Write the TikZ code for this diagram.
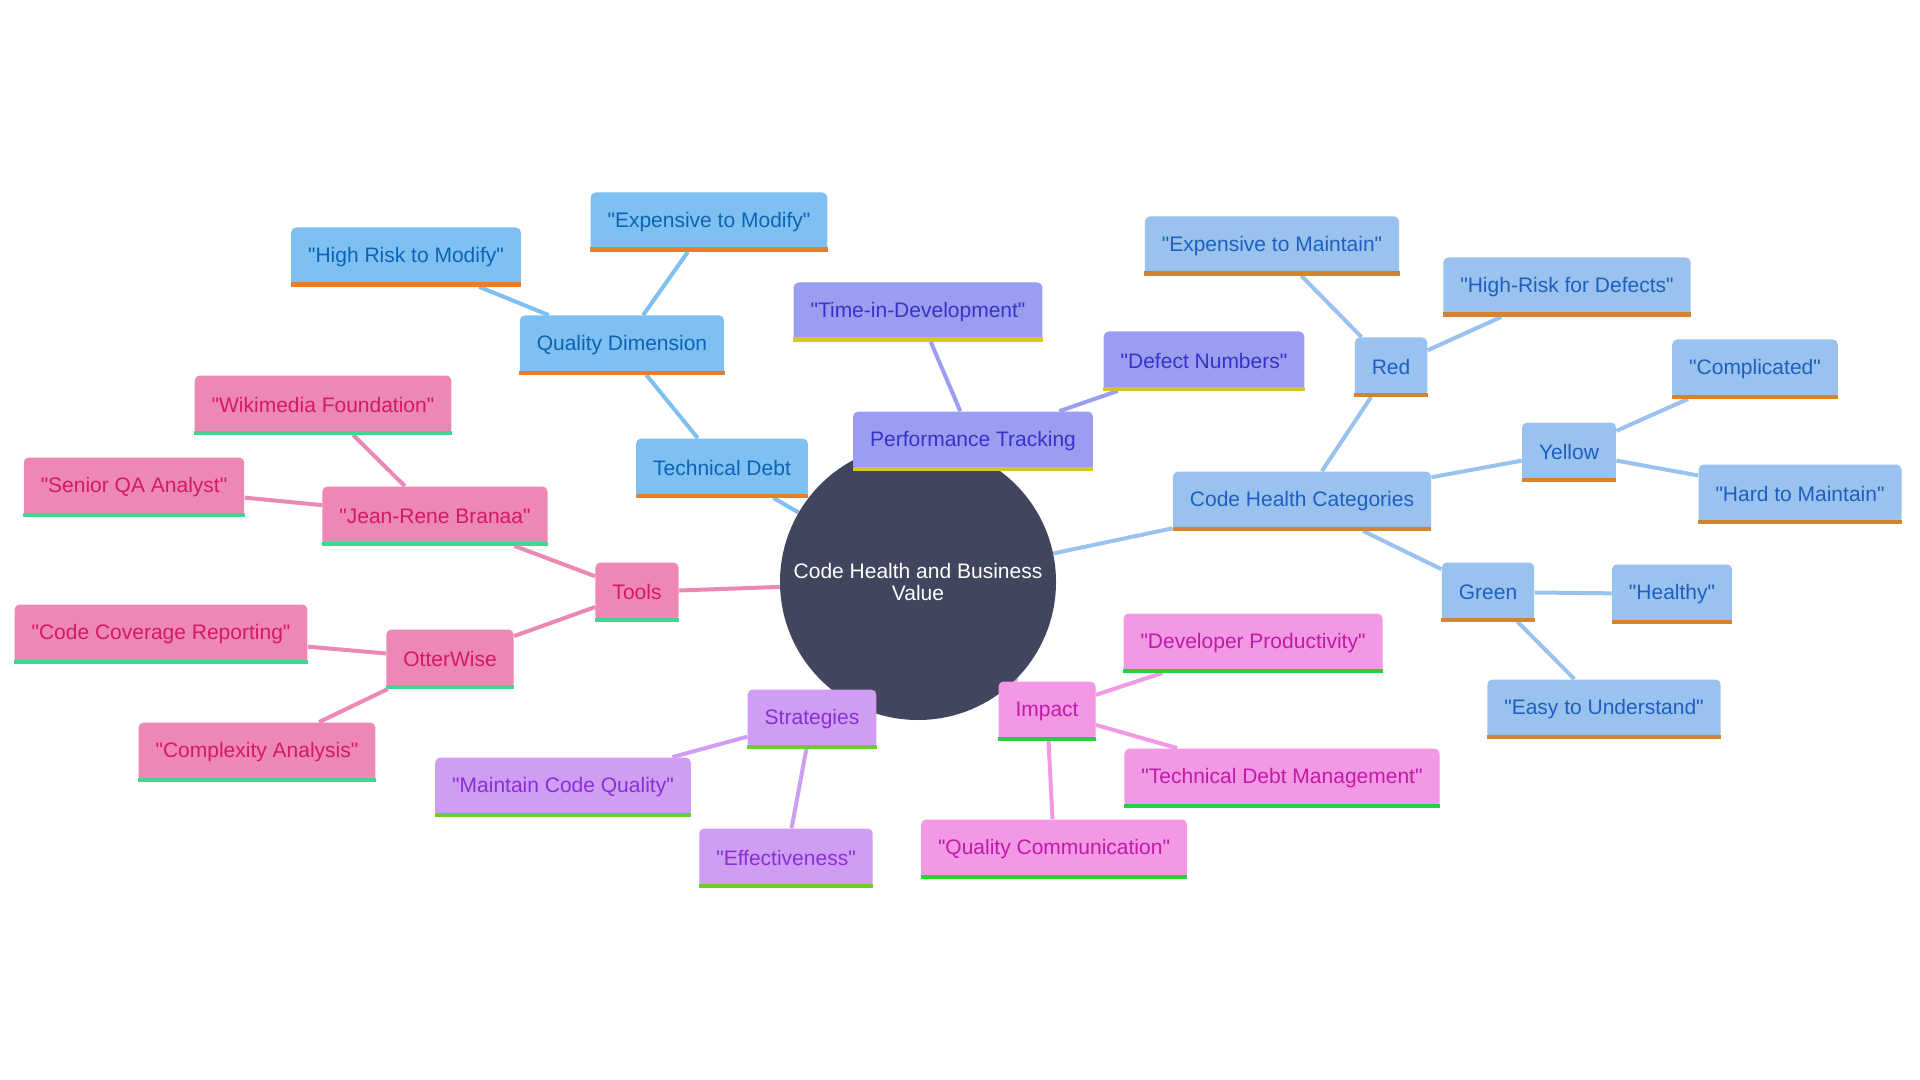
\documentclass[tikz,border=0pt]{standalone}
\usepackage{fontspec}
\setmainfont{Liberation Sans}[Ligatures=TeXOff]
\usetikzlibrary{backgrounds}
\definecolor{root-fill}{HTML}{41455D}
\definecolor{td-fill}{HTML}{7DC0F1}
\definecolor{td-text}{HTML}{0E64B4}
\definecolor{td-bar}{HTML}{E57E35}
\definecolor{pt-fill}{HTML}{9B9DF1}
\definecolor{pt-text}{HTML}{3434C8}
\definecolor{pt-bar}{HTML}{D4C81E}
\definecolor{ch-fill}{HTML}{9AC2EE}
\definecolor{ch-text}{HTML}{1E5FC0}
\definecolor{ch-bar}{HTML}{D4842F}
\definecolor{im-fill}{HTML}{F298E4}
\definecolor{im-text}{HTML}{C21AA8}
\definecolor{im-bar}{HTML}{22D13C}
\definecolor{st-fill}{HTML}{CF9DF2}
\definecolor{st-text}{HTML}{8A2FD6}
\definecolor{st-bar}{HTML}{6ACF2C}
\definecolor{to-fill}{HTML}{ED87B5}
\definecolor{to-text}{HTML}{D41968}
\definecolor{to-bar}{HTML}{3BD88E}
\tikzset{
  mmroot/.style={
    circle, fill=root-fill, text=white,
    minimum size=138pt, inner sep=0pt, align=center,
    font=\fontsize{10.5}{11}\selectfont
  },
  mmbox/.style={
    rectangle, rounded corners=2.5pt,
    minimum height=29.5pt, inner xsep=8.5pt,
    font=\fontsize{10.5}{12}\selectfont
  },
  tdbox/.style={mmbox, fill=td-fill, text=td-text},
  ptbox/.style={mmbox, fill=pt-fill, text=pt-text},
  chbox/.style={mmbox, fill=ch-fill, text=ch-text},
  imbox/.style={mmbox, fill=im-fill, text=im-text},
  stbox/.style={mmbox, fill=st-fill, text=st-text},
  tobox/.style={mmbox, fill=to-fill, text=to-text},
  mmedge/.style={line width=2pt},
}

\begin{document}
\begin{tikzpicture}[x=0.5pt, y=-0.5pt]
  \useasboundingbox (0,0) rectangle (1920,1080);

  % centre
  \node[mmroot] (root) at (918,582) {Code Health and Business\\Value};

  % technical debt
  \node[tdbox] (td)  at (722,468) {Technical Debt};
  \node[tdbox] (qd)  at (622,345) {Quality Dimension};
  \node[tdbox] (hrm) at (406,257) {"High Risk to Modify"};
  \node[tdbox] (etm) at (709,222) {"Expensive to Modify"};

  % performance tracking
  \node[ptbox] (pt)  at (973,441)  {Performance Tracking};
  \node[ptbox] (tid) at (918,312)  {"Time-in-Development"};
  \node[ptbox] (dn)  at (1204,361) {"Defect Numbers"};

  % code health categories
  \node[chbox] (chc)  at (1302,501) {Code Health Categories};
  \node[chbox] (red)  at (1391,367) {Red};
  \node[chbox] (etmn) at (1272,246) {"Expensive to Maintain"};
  \node[chbox] (hrd)  at (1567,287) {"High-Risk for Defects"};
  \node[chbox] (yel)  at (1569,452) {Yellow};
  \node[chbox] (cmp)  at (1755,369) {"Complicated"};
  \node[chbox] (htm)  at (1800,494) {"Hard to Maintain"};
  \node[chbox] (grn)  at (1488,592) {Green};
  \node[chbox] (hlt)  at (1672,594) {"Healthy"};
  \node[chbox] (etu)  at (1604,709) {"Easy to Understand"};

  % impact
  \node[imbox] (imp) at (1047,711) {Impact};
  \node[imbox] (dp)  at (1253,643) {"Developer Productivity"};
  \node[imbox] (tdm) at (1282,778) {"Technical Debt Management"};
  \node[imbox] (qc)  at (1054,849) {"Quality Communication"};

  % strategies
  \node[stbox] (str) at (812,719) {Strategies};
  \node[stbox] (mcq) at (563,787) {"Maintain Code Quality"};
  \node[stbox] (eff) at (786,858) {"Effectiveness"};

  % tools
  \node[tobox] (tools) at (637,592) {Tools};
  \node[tobox] (jrb)   at (435,516) {"Jean-Rene Branaa"};
  \node[tobox] (wf)    at (323,405) {"Wikimedia Foundation"};
  \node[tobox] (sqa)   at (134,487) {"Senior QA Analyst"};
  \node[tobox] (ow)    at (450,659) {OtterWise};
  \node[tobox] (ccr)   at (161,634) {"Code Coverage Reporting"};
  \node[tobox] (ca)    at (257,752) {"Complexity Analysis"};

  % bottom bars
  \foreach \n/\c in {td/td-bar, qd/td-bar, hrm/td-bar, etm/td-bar,
                     pt/pt-bar, tid/pt-bar, dn/pt-bar,
                     chc/ch-bar, red/ch-bar, etmn/ch-bar, hrd/ch-bar, yel/ch-bar,
                     cmp/ch-bar, htm/ch-bar, grn/ch-bar, hlt/ch-bar, etu/ch-bar,
                     imp/im-bar, dp/im-bar, tdm/im-bar, qc/im-bar,
                     str/st-bar, mcq/st-bar, eff/st-bar,
                     tools/to-bar, jrb/to-bar, wf/to-bar, sqa/to-bar, ow/to-bar,
                     ccr/to-bar, ca/to-bar}
    \fill[\c] ([yshift=2.2pt]\n.south west) rectangle (\n.south east);

  \begin{scope}[on background layer]
    \fill[white] (0,0) rectangle (1920,1080);
    \draw[mmedge, td-fill] (root) -- (td);
    \draw[mmedge, td-fill] (td) -- (qd);
    \draw[mmedge, td-fill] (qd) -- (hrm);
    \draw[mmedge, td-fill] (qd) -- (etm);
    \draw[mmedge, pt-fill] (root) -- (pt);
    \draw[mmedge, pt-fill] (pt) -- (tid);
    \draw[mmedge, pt-fill] (pt) -- (dn);
    \draw[mmedge, ch-fill] (root) -- (chc);
    \draw[mmedge, ch-fill] (chc) -- (red);
    \draw[mmedge, ch-fill] (red) -- (etmn);
    \draw[mmedge, ch-fill] (red) -- (hrd);
    \draw[mmedge, ch-fill] (chc) -- (yel);
    \draw[mmedge, ch-fill] (yel) -- (cmp);
    \draw[mmedge, ch-fill] (yel) -- (htm);
    \draw[mmedge, ch-fill] (chc) -- (grn);
    \draw[mmedge, ch-fill] (grn) -- (hlt);
    \draw[mmedge, ch-fill] (grn) -- (etu);
    \draw[mmedge, im-fill] (root) -- (imp);
    \draw[mmedge, im-fill] (imp) -- (dp);
    \draw[mmedge, im-fill] (imp) -- (tdm);
    \draw[mmedge, im-fill] (imp) -- (qc);
    \draw[mmedge, st-fill] (root) -- (str);
    \draw[mmedge, st-fill] (str) -- (mcq);
    \draw[mmedge, st-fill] (str) -- (eff);
    \draw[mmedge, to-fill] (root) -- (tools);
    \draw[mmedge, to-fill] (tools) -- (jrb);
    \draw[mmedge, to-fill] (jrb) -- (wf);
    \draw[mmedge, to-fill] (jrb) -- (sqa);
    \draw[mmedge, to-fill] (tools) -- (ow);
    \draw[mmedge, to-fill] (ow) -- (ccr);
    \draw[mmedge, to-fill] (ow) -- (ca);
  \end{scope}
\end{tikzpicture}
\end{document}
